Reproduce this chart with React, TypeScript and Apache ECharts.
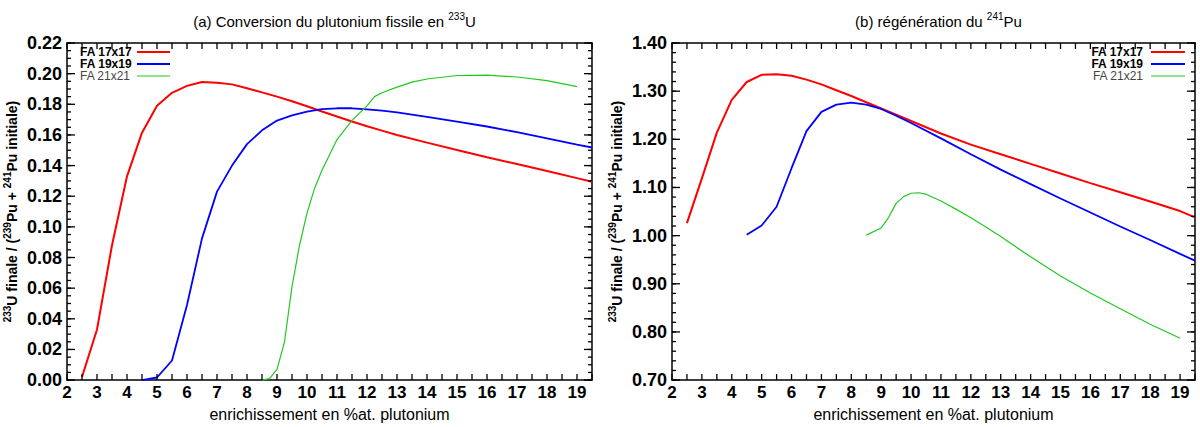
import React, { useEffect, useRef } from 'react';
import * as echarts from 'echarts';

const FONT = '"Liberation Sans", Arial, Helvetica, sans-serif';

// ---- data: (a) Conversion du plutonium fissile en 233U ----
const redA: number[][] = [[2.5,0.002],[3.0,0.033],[3.5,0.088],[4.0,0.133],[4.5,0.1615],[5.0,0.179],[5.5,0.1875],[6.0,0.192],[6.5,0.1945],[7.0,0.194],[7.5,0.193],[8.0,0.1905],[8.5,0.1878],[9.0,0.185],[9.5,0.182],[10.0,0.1787],[10.5,0.1753],[11.0,0.172],[11.5,0.1688],[12.0,0.1657],[12.5,0.1628],[13.0,0.16],[14.0,0.155],[15.0,0.1502],[16.0,0.1455],[17.0,0.141],[18.0,0.1365],[19.0,0.1318],[19.5,0.1295]];
const blueA: number[][] = [[4.5,0.0],[5.0,0.0017],[5.5,0.0128],[6.0,0.049],[6.5,0.0925],[7.0,0.123],[7.5,0.140],[8.0,0.154],[8.5,0.163],[9.0,0.1694],[9.5,0.1727],[10.0,0.1752],[10.5,0.1768],[11.0,0.1774],[11.5,0.1774],[12.0,0.1767],[12.5,0.1758],[13.0,0.1747],[14.0,0.1718],[15.0,0.1687],[16.0,0.1655],[17.0,0.1618],[18.0,0.1578],[19.0,0.1537],[19.5,0.1518]];
const greenA: number[][] = [[8.5,0.0],[8.75,0.001],[9.0,0.007],[9.25,0.025],[9.5,0.061],[9.75,0.088],[10.0,0.109],[10.25,0.125],[10.5,0.137],[11.0,0.157],[11.5,0.1695],[12.0,0.179],[12.25,0.185],[12.5,0.1875],[13.0,0.1912],[13.5,0.1945],[14.0,0.1965],[15.0,0.1988],[16.0,0.199],[17.0,0.1978],[18.0,0.1955],[19.0,0.1915]];

// ---- data: (b) régénération du 241Pu ----
const redB: number[][] = [[2.5,1.026],[3.0,1.119],[3.5,1.214],[4.0,1.282],[4.5,1.319],[5.0,1.334],[5.5,1.335],[6.0,1.332],[6.5,1.324],[7.0,1.314],[7.5,1.302],[8.0,1.290],[8.5,1.277],[9.0,1.264],[9.5,1.251],[10.0,1.238],[11.0,1.212],[12.0,1.189],[13.0,1.169],[14.0,1.149],[15.0,1.129],[16.0,1.109],[17.0,1.090],[18.0,1.071],[19.0,1.051],[19.5,1.038]];
const blueB: number[][] = [[4.5,1.002],[5.0,1.021],[5.5,1.060],[6.0,1.14],[6.5,1.217],[7.0,1.257],[7.5,1.272],[8.0,1.276],[8.5,1.272],[9.0,1.263],[9.5,1.249],[10.0,1.234],[11.0,1.202],[12.0,1.169],[13.0,1.137],[14.0,1.107],[15.0,1.077],[16.0,1.048],[17.0,1.019],[18.0,0.991],[19.0,0.962],[19.5,0.948]];
const greenB: number[][] = [[8.5,1.001],[9.0,1.016],[9.25,1.038],[9.5,1.067],[9.75,1.081],[10.0,1.088],[10.25,1.089],[10.5,1.086],[11.0,1.072],[11.5,1.055],[12.0,1.037],[12.5,1.018],[13.0,0.998],[14.0,0.956],[15.0,0.916],[16.0,0.881],[17.0,0.848],[18.0,0.816],[19.0,0.787]];

const seriesNames = ['FA 17x17', 'FA 19x19', 'FA 21x21'];
const seriesColors = ['#ff0000', '#0000ff', '#22c822'];
const seriesWidths = [2, 1.8, 1.2];

const titles = ['(a) Conversion du plutonium fissile en {sup|233}U', '(b) régénération du {sup|241}Pu'];
const yName = '{sup|233}U finale / ({sup|239}Pu + {sup|241}Pu initiale)';
const xName = 'enrichissement en %at. plutonium';

const xMin = 2, xMax = 19.5, xStep = 0.5;
const yRanges = [
  { min: 0, max: 0.22, interval: 0.02, minor: 4 },
  { min: 0.7, max: 1.4, interval: 0.1, minor: 5 },
];

const grids = [
  { left: 67, right: 608, top: 43, bottom: 40 },
  { left: 672, right: 5, top: 43, bottom: 40 },
];

const axisLineStyle = { color: '#000', width: 1.5 };
const TICK_COLOR = '#000';
const TICK_WIDTH = 1.3;

function range(a: number, b: number, step: number): number[] {
  const out: number[] = [];
  const n = Math.round((b - a) / step);
  for (let k = 0; k <= n; k++) out.push(+(a + k * step).toFixed(6));
  return out;
}

// tick marks drawn by a custom series, positioned through the axes' own scales
function tickSeries(i: number, dir: 'x' | 'y', values: number[], len: number, yMin: number, yMax: number) {
  return {
    type: 'custom',
    xAxisIndex: i * 2,
    yAxisIndex: i * 2,
    silent: true,
    clip: false,
    z: 10,
    data: values.map((v) => (dir === 'x' ? [v, yMin] : [xMin, v])),
    renderItem: (_params: any, api: any) => {
      const v = api.value(dir === 'x' ? 0 : 1);
      let a: number[], b: number[];
      if (dir === 'x') {
        a = api.coord([v, yMin]);
        b = api.coord([v, yMax]);
        return {
          type: 'group',
          children: [
            { type: 'line', shape: { x1: a[0], y1: a[1], x2: a[0], y2: a[1] - len }, style: { stroke: TICK_COLOR, lineWidth: TICK_WIDTH } },
            { type: 'line', shape: { x1: b[0], y1: b[1], x2: b[0], y2: b[1] + len }, style: { stroke: TICK_COLOR, lineWidth: TICK_WIDTH } },
          ],
        };
      }
      a = api.coord([xMin, v]);
      b = api.coord([xMax, v]);
      return {
        type: 'group',
        children: [
          { type: 'line', shape: { x1: a[0], y1: a[1], x2: a[0] + len, y2: a[1] }, style: { stroke: TICK_COLOR, lineWidth: TICK_WIDTH } },
          { type: 'line', shape: { x1: b[0], y1: b[1], x2: b[0] - len, y2: b[1] }, style: { stroke: TICK_COLOR, lineWidth: TICK_WIDTH } },
        ],
      };
    },
  };
}

function buildOption() {
  const xAxis: any[] = [];
  const yAxis: any[] = [];
  const series: any[] = [];
  grids.forEach((_, i) => {
    const r = yRanges[i];
    xAxis.push({
      type: 'value', gridIndex: i, min: xMin, max: xMax, interval: xStep, position: 'bottom',
      axisLine: { show: true, onZero: false, lineStyle: { ...axisLineStyle } },
      axisTick: { show: false },
      splitLine: { show: false },
      axisLabel: {
        formatter: (v: number) => (Math.abs(v - Math.round(v)) < 1e-6 && v < 19.4 ? String(Math.round(v)) : ''),
        fontSize: 17, fontWeight: 'bold', color: '#000', fontFamily: FONT, margin: 4,
      },
      name: xName, nameLocation: 'middle', nameGap: 19,
      nameTextStyle: { fontSize: 16, color: '#000', fontFamily: FONT },
    });
    xAxis.push({
      type: 'value', gridIndex: i, min: xMin, max: xMax, interval: xStep, position: 'top',
      axisLine: { show: true, onZero: false, lineStyle: { ...axisLineStyle } },
      axisTick: { show: false }, axisLabel: { show: false }, splitLine: { show: false },
    });
    yAxis.push({
      type: 'value', gridIndex: i, min: r.min, max: r.max, interval: r.interval, position: 'left',
      axisLine: { show: true, onZero: false, lineStyle: { ...axisLineStyle } },
      axisTick: { show: false },
      splitLine: { show: false },
      axisLabel: {
        formatter: (v: number) => Number(v).toFixed(2),
        fontSize: 18, fontWeight: 'bold', color: '#000', fontFamily: FONT, margin: 5,
      },
      name: yName, nameLocation: 'middle', nameRotate: 90, nameGap: 46,
      nameTextStyle: {
        fontSize: 14, fontWeight: 'bold', color: '#000', fontFamily: FONT, lineHeight: 19,
        rich: { sup: { fontSize: 10, lineHeight: 10, verticalAlign: 'top', fontWeight: 'bold', fontFamily: FONT } },
      },
    });
    yAxis.push({
      type: 'value', gridIndex: i, min: r.min, max: r.max, interval: r.interval, position: 'right',
      axisLine: { show: true, onZero: false, lineStyle: { ...axisLineStyle } },
      axisTick: { show: false }, axisLabel: { show: false }, splitLine: { show: false },
    });

    // ticks: x every 0.5 (inward, bottom & top); y major + minor (inward, left & right)
    series.push(tickSeries(i, 'x', range(xMin, xMax, xStep), 6, r.min, r.max));
    series.push(tickSeries(i, 'y', range(r.min, r.max, r.interval), 8, r.min, r.max));
    series.push(tickSeries(i, 'y', range(r.min, r.max, r.interval / r.minor), 4, r.min, r.max));
  });

  const allData = [[redA, blueA, greenA], [redB, blueB, greenB]];
  allData.forEach((set, i) => {
    set.forEach((d, k) => {
      series.push({
        type: 'line', name: seriesNames[k], xAxisIndex: i * 2, yAxisIndex: i * 2,
        data: d, symbol: 'none', showSymbol: false, smooth: false, z: 3,
        lineStyle: { color: seriesColors[k], width: seriesWidths[k] },
        itemStyle: { color: seriesColors[k] },
      });
    });
  });

  const title = titles.map((t, i) => ({
    text: t,
    left: i === 0 ? 329.5 : 933.5,
    top: 6,
    textAlign: 'center',
    textStyle: {
      fontSize: 15, fontWeight: 'normal', color: '#000', fontFamily: FONT, lineHeight: 20,
      rich: { sup: { fontSize: 10, lineHeight: 11, verticalAlign: 'top', fontWeight: 'normal', fontFamily: FONT } },
    },
  }));

  // legends drawn as graphic text + line samples (gnuplot style)
  const legendFonts = ['bold 12px ' + FONT, 'bold 12px ' + FONT, 'normal 12px ' + FONT];
  const legendTextColors = ['#000', '#000', '#444'];
  const rowsY = [52, 64, 76];
  const graphic: any[] = [];
  seriesNames.forEach((n, k) => {
    graphic.push({
      type: 'text', z: 100,
      style: { text: n, x: 80, y: rowsY[k], textAlign: 'left', align: 'left', textVerticalAlign: 'middle', verticalAlign: 'middle', font: legendFonts[k], fill: legendTextColors[k] },
    });
    graphic.push({
      type: 'line', z: 100,
      shape: { x1: 137, y1: rowsY[k], x2: 170, y2: rowsY[k] },
      style: { stroke: seriesColors[k], lineWidth: seriesWidths[k] },
    });
    graphic.push({
      type: 'text', z: 100,
      style: { text: n, x: 1143, y: rowsY[k], textAlign: 'right', align: 'right', textVerticalAlign: 'middle', verticalAlign: 'middle', font: legendFonts[k], fill: legendTextColors[k] },
    });
    graphic.push({
      type: 'line', z: 100,
      shape: { x1: 1151, y1: rowsY[k], x2: 1185, y2: rowsY[k] },
      style: { stroke: seriesColors[k], lineWidth: seriesWidths[k] },
    });
  });

  return {
    animation: false,
    backgroundColor: '#fff',
    textStyle: { fontFamily: FONT },
    title,
    grid: grids,
    xAxis,
    yAxis,
    series,
    graphic,
  };
}

export default function App() {
  const ref = useRef<HTMLDivElement>(null);
  useEffect(() => {
    const chart = echarts.init(ref.current!, null, { renderer: 'svg' });
    chart.setOption(buildOption() as any);
    return () => chart.dispose();
  }, []);
  return (
    <div
      ref={ref}
      style={{ position: 'absolute', left: 0, top: 0, width: 1200, height: 427, background: '#fff' }}
    />
  );
}
